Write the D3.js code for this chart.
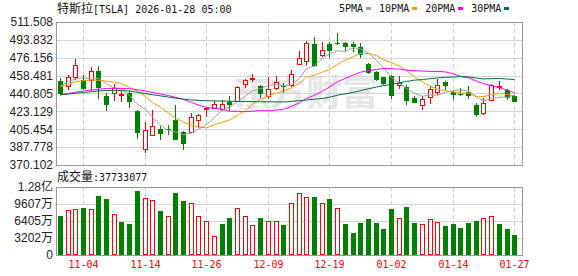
<!DOCTYPE html>
<html>
<head>
<meta charset="utf-8">
<script src="https://cdn.jsdelivr.net/npm/d3@7"></script>
<style>
  body { margin: 0; background: #fff; }
  svg { display: block; }
</style>
</head>
<body>
<div id="chart"></div>
<script>
// trading days shown on the chart
const dates = ["10-30","10-31","11-03","11-04","11-05","11-06","11-07","11-10","11-11","11-12",
  "11-13","11-14","11-17","11-18","11-19","11-20","11-21","11-24","11-25","11-26",
  "11-28","12-01","12-02","12-03","12-04","12-05","12-08","12-09","12-10","12-11",
  "12-12","12-15","12-16","12-17","12-18","12-19","12-22","12-23","12-24","12-26",
  "12-29","12-30","12-31","01-02","01-05","01-06","01-07","01-08","01-09","01-12",
  "01-13","01-14","01-15","01-16","01-20","01-21","01-22","01-23","01-26","01-27"];

const open = [452.8,447.9,457.1,454.5,453.8,463.4,438.0,441.3,439.8,441.3,
  423.8,386.2,399.4,405.7,405.8,414.9,402.7,402.4,414.9,425.5,
  426.5,425.8,432.4,433.1,450.5,454.8,447.9,438.0,446.2,448.3,
  448.9,470.3,473.3,489.8,479.2,489.8,490.8,490.7,489.8,486.5,
  470.0,461.7,456.8,458.4,449.5,446.9,436.4,429.1,437.0,442.0,
  451.8,442.3,440.6,442.0,429.8,421.5,434.7,446.9,444.6,438.0];
const high = [456.1,459.4,474.9,459.4,466.7,468.3,441.3,450.2,443.6,442.9,
  424.8,412.3,424.8,409.0,410.0,429.8,403.4,421.5,420.5,427.1,
  433.0,434.7,438.0,447.9,455.5,460.1,449.5,456.8,457.8,451.2,
  464.4,482.5,492.4,496.3,491.7,491.7,500.6,491.7,491.7,490.7,
  471.0,462.7,457.5,459.4,457.8,448.9,438.0,438.0,447.9,455.5,
  452.8,444.6,446.2,447.9,431.4,436.4,450.2,453.5,445.3,439.6];
const low = [439.6,444.6,454.5,444.6,443.0,435.4,423.2,433.7,432.4,426.5,
  395.8,382.0,399.1,394.5,400.0,395.0,384.6,401.7,406.7,417.2,
  426.0,423.2,423.8,432.4,446.2,452.2,436.4,435.4,444.6,441.3,
  446.9,469.3,467.7,466.7,476.6,475.9,488.4,483.2,481.9,475.9,
  460.1,452.8,449.5,435.7,445.3,429.8,431.1,424.8,430.4,439.6,
  444.6,434.7,438.0,435.7,417.2,419.2,434.0,444.6,434.7,432.4];
const close = [440.6,456.8,468.7,445.3,462.7,446.2,429.8,446.3,440.4,432.4,
  401.7,404.4,408.3,401.1,404.5,395.2,391.2,417.2,419.2,426.5,
  430.8,430.2,429.6,446.9,454.5,456.1,440.6,445.3,452.2,447.2,
  460.1,475.9,490.7,467.7,484.2,482.5,490.3,487.0,486.3,479.2,
  461.1,454.5,450.2,438.0,451.2,433.7,431.4,435.7,445.3,448.9,
  448.5,439.6,439.3,438.7,419.2,431.4,449.5,447.9,436.4,432.4];

// shares
const volume = [74030000,84770000,86660000,89110000,87220000,111710000,106060000,77240000,62170000,58400000,
  121130000,107380000,103610000,83460000,73470000,117370000,102290000,97960000,73470000,64050000,
  35790000,58400000,70270000,87970000,73470000,56510000,70270000,64050000,64050000,56510000,
  97960000,116230000,108700000,109260000,97960000,105490000,87970000,58400000,41450000,60280000,
  67820000,60280000,48980000,86660000,69080000,90420000,60280000,57820000,67200000,61600000,
  54630000,58400000,50860000,60280000,64050000,69080000,72900000,58400000,48980000,37733077];

// moving averages as drawn
const ma5 = [448.2,452.5,455.1,456.5,454.8,455.9,450.5,446.1,445.1,439.0,
  430.1,425.0,417.4,409.6,404.0,402.7,400.1,401.8,405.5,409.9,
  417.0,424.8,427.3,432.8,438.4,443.5,445.5,448.7,449.7,448.3,
  449.1,456.1,465.2,468.3,475.7,480.2,483.1,482.3,486.1,485.1,
  480.8,473.6,466.3,456.6,451.0,445.5,440.9,438.0,439.5,439.0,
  442.0,443.6,444.3,443.0,437.1,433.6,435.6,437.3,436.9,439.5];
const ma10 = [447.5,450.0,452.5,453.5,454.0,453.8,453.0,452.0,450.5,446.9,
  443.0,437.8,431.8,427.3,421.5,416.4,412.6,409.6,407.5,406.9,
  409.8,412.4,414.6,419.1,424.1,430.2,435.2,438.0,441.3,443.3,
  446.3,450.8,457.0,459.0,462.0,464.6,469.6,473.8,477.2,480.4,
  480.5,478.4,474.3,471.3,468.0,463.2,457.3,452.1,448.0,445.0,
  443.7,442.3,441.2,441.2,438.0,437.8,439.6,440.8,439.9,438.3];
const ma20 = [439.5,440.8,442.0,443.3,444.3,445.0,445.8,446.0,445.9,445.5,
  444.5,443.3,441.8,440.3,438.8,437.0,435.0,432.0,429.3,426.9,
  426.4,425.1,423.2,423.2,422.8,423.3,423.9,423.8,424.4,425.1,
  428.1,431.6,435.8,439.1,443.1,447.4,452.4,455.9,459.2,461.9,
  463.4,464.6,465.6,465.2,465.0,463.9,463.4,463.0,462.6,462.7,
  462.1,460.3,457.7,456.3,453.0,450.5,448.4,446.5,444.0,441.6];
const ma30 = [439.5,440.3,441.0,441.8,442.5,443.3,443.8,444.0,443.8,443.3,
  442.0,440.8,439.6,438.5,437.3,436.2,435.2,434.5,434.0,433.7,
  433.5,433.3,433.2,433.0,432.9,432.8,432.7,432.6,432.5,432.4,
  433.0,433.7,434.4,435.2,435.9,437.1,439.1,440.5,442.0,443.6,
  445.5,447.2,448.6,449.8,451.4,452.7,454.0,454.6,455.5,456.2,
  456.8,457.1,457.5,457.2,456.0,455.2,455.5,455.6,455.1,454.6];

const priceTicks = [370.102,387.778,405.454,423.129,440.805,458.481,476.156,493.832,511.508];
const volTicks = [0,32025000,64050000,96075000,128100000];
const volTickLabels = ["0","3202万","6405万","9607万","1.28亿"];
const xTickLabels = ["11-04","11-14","11-26","12-09","12-19","01-02","01-14","01-27"];

const maNames = ["5PMA","10PMA","20PMA","30PMA"];
const maColors = ["#a0a0a0","#f0a000","#ff00ff","#006f36"];
const maSeries = [ma5, ma10, ma20, ma30];

const title = "特斯拉[TSLA] 2026-01-28 05:00";

// layout
const W = 578, H = 276;
const L = 56, R = 522;
const pTop = 22, pBot = 165;
const vTop = 187, vBot = 255;

const RED = "#ff0000", GREEN = "#008000";
const CJK = "'Noto Sans CJK SC', sans-serif";
const MONO = "'DejaVu Sans Mono', monospace";
const NUM = "'Liberation Sans', Arial, sans-serif";

const svg = d3.select("#chart").append("svg")
    .attr("width", W)
    .attr("height", H);

const x = d3.scaleLinear().domain([-0.5, dates.length]).range([L, R]);
const y = d3.scaleLinear().domain([priceTicks[0], priceTicks[priceTicks.length - 1]]).range([pBot, pTop]);
const yv = d3.scaleLinear().domain([0, volTicks[volTicks.length - 1]]).range([vBot, vTop]);

const cx = i => Math.round(x(i));

// text with CJK in one font and latin in a half-width mono font
function mixedText(sel, str) {
  const runs = str.match(/[\u3000-\u9fff\uff00-\uffef]+|[^\u3000-\u9fff\uff00-\uffef]+/g);
  runs.forEach(r => {
    const cjk = /[\u3000-\u9fff\uff00-\uffef]/.test(r);
    sel.append("tspan")
      .style("font-family", cjk ? CJK : MONO)
      .style("font-size", cjk ? "12px" : "10px")
      .attr("xml:space", "preserve")
      .text(r);
  });
}

// watermark
svg.append("text")
    .attr("x", 234)
    .attr("y", 106)
    .style("font-family", CJK)
    .style("font-size", "36px")
    .style("font-weight", "bold")
    .style("fill", "#e5e5ea")
    .text("东方财富");

// grid lines
const grid = svg.append("g").attr("shape-rendering", "crispEdges");
grid.selectAll(".hp")
    .data(priceTicks.slice(1, -1))
    .join("line")
    .attr("x1", L).attr("x2", R)
    .attr("y1", d => Math.round(y(d)) + 0.5)
    .attr("y2", d => Math.round(y(d)) + 0.5)
    .attr("stroke", "#d4d4d4");
grid.selectAll(".hv")
    .data(volTicks.slice(1, -1))
    .join("line")
    .attr("x1", L).attr("x2", R)
    .attr("y1", d => Math.round(yv(d)) + 0.5)
    .attr("y2", d => Math.round(yv(d)) + 0.5)
    .attr("stroke", "#d4d4d4");

const tickIdx = xTickLabels.map(t => dates.indexOf(t));
[[pTop, pBot], [vTop, vBot]].forEach(([t, b]) => {
  grid.append("g").selectAll("line")
      .data(tickIdx)
      .join("line")
      .attr("x1", i => cx(i) + 0.5).attr("x2", i => cx(i) + 0.5)
      .attr("y1", t).attr("y2", b)
      .attr("stroke", "#cccccc")
      .attr("stroke-dasharray", "4,3");
});

// candles
const candles = svg.append("g").attr("shape-rendering", "crispEdges");
dates.forEach((d, i) => {
  const up = close[i] >= open[i];
  const col = up ? RED : GREEN;
  const c = cx(i);
  candles.append("line")
      .attr("x1", c + 0.5).attr("x2", c + 0.5)
      .attr("y1", y(high[i])).attr("y2", y(low[i]))
      .attr("stroke", col);
  const top = Math.round(y(Math.max(open[i], close[i])));
  const bot = Math.round(y(Math.min(open[i], close[i])));
  if (up) {
    candles.append("rect")
        .attr("x", c - 2 + 0.5).attr("y", top + 0.5)
        .attr("width", 4).attr("height", Math.max(bot - top, 0))
        .attr("fill", "#fff").attr("stroke", col);
  } else {
    candles.append("rect")
        .attr("x", c - 2).attr("y", top)
        .attr("width", 5).attr("height", Math.max(bot - top, 1))
        .attr("fill", col);
  }
});

// moving average lines
maSeries.forEach((s, k) => {
  svg.append("path")
      .datum(s)
      .attr("fill", "none")
      .attr("stroke", maColors[k])
      .attr("stroke-width", 1)
      .attr("d", d3.line().x((v, i) => cx(i) + 0.5).y(v => y(v)));
});

// volume bars, coloured against the previous close
const vol = svg.append("g").attr("shape-rendering", "crispEdges");
volume.forEach((v, i) => {
  const up = i === 0 ? close[i] >= open[i] : close[i] >= close[i - 1];
  const c = cx(i);
  const top = Math.round(yv(v));
  if (up) {
    vol.append("rect")
        .attr("x", c - 2 + 0.5).attr("y", top + 0.5)
        .attr("width", 4).attr("height", vBot - top - 1)
        .attr("fill", "#fff").attr("stroke", RED);
  } else {
    vol.append("rect")
        .attr("x", c - 2).attr("y", top)
        .attr("width", 5).attr("height", vBot - top)
        .attr("fill", GREEN);
  }
});

// frames
const frame = svg.append("g").attr("shape-rendering", "crispEdges")
    .attr("fill", "none").attr("stroke", "#999");
frame.append("rect").attr("x", L + 0.5).attr("y", pTop + 0.5).attr("width", R - L).attr("height", pBot - pTop);
frame.append("rect").attr("x", L + 0.5).attr("y", vTop + 0.5).attr("width", R - L).attr("height", vBot - vTop);

// y axis labels
svg.append("g").selectAll("text")
    .data(priceTicks)
    .join("text")
    .attr("x", 53)
    .attr("y", d => y(d))
    .attr("dy", "0.36em")
    .attr("text-anchor", "end")
    .style("font-family", NUM)
    .style("font-size", "12px")
    .style("fill", "#222")
    .text(d => d.toFixed(3));

svg.append("g").selectAll("text")
    .data(volTicks)
    .join("text")
    .attr("x", 53)
    .attr("y", d => yv(d))
    .attr("dy", "0.36em")
    .attr("text-anchor", "end")
    .style("font-family", NUM + ", " + CJK)
    .style("font-size", "12px")
    .style("fill", "#222")
    .text((d, i) => volTickLabels[i]);

// x axis labels
svg.append("g").selectAll("text")
    .data(tickIdx)
    .join("text")
    .attr("x", i => cx(i) + 0.5)
    .attr("y", 268)
    .attr("text-anchor", "middle")
    .style("font-family", MONO)
    .style("font-size", "10px")
    .style("fill", RED)
    .text(i => dates[i]);

// title
mixedText(svg.append("text").attr("x", 57).attr("y", 13).style("fill", "#111"), title);

// volume caption
mixedText(svg.append("text").attr("x", 57).attr("y", 181).style("fill", "#111"),
  "成交量:" + volume[volume.length - 1]);

// legend
let lx = 339;
maNames.forEach((n, k) => {
  svg.append("text")
      .attr("x", lx).attr("y", 12)
      .style("font-family", MONO)
      .style("font-size", "10px")
      .style("fill", "#111")
      .text(n);
  lx += n.length * 6.02 + 3;
  svg.append("rect")
      .attr("x", Math.round(lx)).attr("y", 7)
      .attr("width", 5).attr("height", 3)
      .attr("fill", maColors[k]);
  lx += 5 + 8;
});
</script>
</body>
</html>
